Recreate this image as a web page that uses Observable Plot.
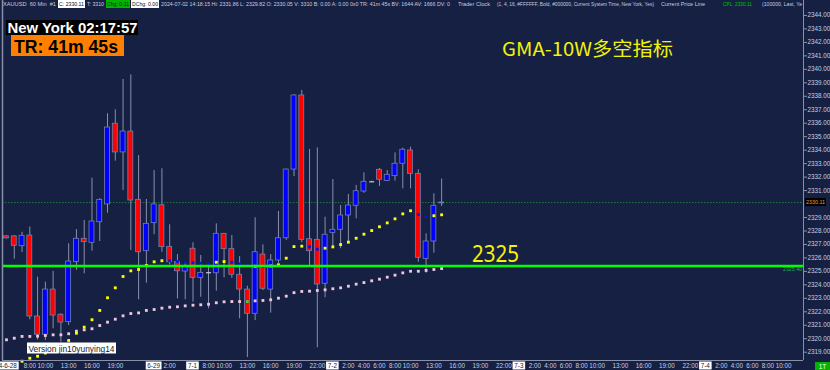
<!DOCTYPE html>
<html><head><meta charset="utf-8">
<script src="https://cdn.jsdelivr.net/npm/d3@7"></script>
<script src="https://cdn.jsdelivr.net/npm/@observablehq/plot@0.6"></script>
<style>
html,body{margin:0;padding:0;background:#152042;}
#wrap{position:relative;width:830px;height:370px;overflow:hidden;}
</style></head><body><div id="wrap"></div>
<script>
// ---- data (XAUUSD 60 Min) ----
const open  = [2327.60,2327.60,2326.87,2327.66,2321.65,2320.30,2323.65,2321.78,2321.23,2325.70,2327.42,2327.12,2328.65,2329.97,2335.96,2333.83,2335.38,2330.31,2326.50,2328.58,2329.91,2326.82,2325.68,2324.99,2326.68,2324.52,2324.90,2324.86,2327.79,2326.65,2324.75,2323.65,2321.85,2326.25,2323.65,2325.81,2327.46,2332.56,2338.06,2327.39,2327.34,2324.08,2327.86,2328.09,2329.15,2329.87,2330.93,2331.65,2332.54,2331.72,2332.07,2332.99,2333.97,2332.24,2325.93,2327.22,2330.05];
const high  = [2327.65,2327.65,2327.90,2328.30,2324.57,2324.20,2325.00,2321.85,2327.05,2328.10,2328.78,2331.92,2330.40,2336.70,2337.00,2339.25,2339.59,2333.60,2330.34,2332.49,2332.62,2328.46,2326.25,2325.68,2327.12,2326.18,2325.56,2328.53,2327.80,2327.66,2326.10,2323.90,2328.98,2326.97,2326.25,2329.45,2332.60,2338.13,2338.43,2334.05,2334.17,2329.02,2331.82,2329.89,2330.71,2331.38,2332.32,2331.70,2332.64,2332.49,2333.80,2334.15,2334.22,2332.54,2327.79,2330.76,2331.86];
const low   = [2327.40,2325.90,2326.40,2321.40,2319.90,2319.87,2320.74,2319.74,2320.98,2325.07,2324.82,2326.50,2327.22,2329.32,2333.18,2331.00,2326.55,2322.89,2324.12,2327.72,2326.42,2325.49,2322.96,2322.89,2322.71,2323.08,2322.22,2323.53,2324.52,2324.49,2321.48,2318.60,2321.35,2323.58,2321.90,2325.60,2327.30,2332.04,2327.12,2325.44,2319.33,2323.04,2326.68,2326.68,2327.05,2328.90,2330.80,2331.60,2331.30,2331.67,2331.70,2331.13,2331.13,2325.68,2324.86,2326.35,2329.82];
const close = [2327.45,2326.90,2327.64,2321.65,2320.30,2323.65,2321.72,2321.20,2325.73,2327.42,2327.17,2328.70,2330.31,2335.68,2333.83,2335.38,2330.26,2326.42,2328.53,2329.97,2326.80,2325.68,2325.01,2325.31,2324.52,2324.89,2324.90,2327.79,2326.65,2324.75,2323.65,2321.85,2326.42,2323.71,2325.81,2327.46,2332.56,2338.06,2327.34,2326.50,2324.03,2327.72,2328.09,2329.15,2329.89,2330.95,2331.65,2331.65,2331.80,2332.17,2332.99,2334.03,2332.24,2326.01,2327.22,2329.87,2330.11];
// GMA-10W dots: fast (yellow/blue) and slow (pink/green)
const gmaFast = [null,null,2318.33,2318.55,2318.70,2318.94,2319.20,2319.50,2319.87,2320.41,2320.86,2321.41,2322.10,2323.04,2323.78,2324.62,2325.04,2325.14,2325.44,2325.71,2325.79,2325.79,2325.73,2325.68,2325.63,2325.61,2325.56,2325.68,2325.73,2325.68,2325.56,2325.42,2325.38,2325.36,2325.40,2325.49,2325.98,2326.84,2326.87,2326.82,2326.65,2326.72,2326.82,2326.99,2327.17,2327.46,2327.76,2328.03,2328.31,2328.60,2328.90,2329.27,2329.50,2329.22,2329.07,2329.13,2329.20];
const gmaSlow = [2319.92,2320.04,2320.17,2320.17,2320.19,2320.24,2320.29,2320.29,2320.37,2320.56,2320.66,2320.74,2320.98,2321.23,2321.45,2321.70,2321.87,2321.92,2322.10,2322.17,2322.27,2322.34,2322.37,2322.44,2322.49,2322.52,2322.56,2322.67,2322.74,2322.76,2322.76,2322.76,2322.81,2322.84,2322.89,2323.01,2323.16,2323.42,2323.51,2323.53,2323.58,2323.63,2323.71,2323.78,2323.90,2324.05,2324.17,2324.30,2324.42,2324.57,2324.72,2324.89,2325.01,2325.01,2325.07,2325.14,2325.21];
const supportLevel = 2325.40;
const lastPrice = 2330.11;
const priceTicks = d3.range(2319, 2345).filter(v => Math.abs(v - lastPrice) > 0.5);
const hourTickIdx = [3,5,8,11,14,21,26,28,31,34,37,40,44,46,48,50,52,55,58,61,64,68,70,72,74,76,79,82,85,88,92,94,96,98,100];
const hourTickLabels = ["8:00","10:00","13:00","16:00","19:00","2:00","8:00","10:00","13:00","16:00","19:00","22:00","2:00","4:00","6:00","8:00","10:00","13:00","16:00","19:00","22:00","2:00","4:00","6:00","8:00","10:00","13:00","16:00","19:00","22:00","2:00","4:00","6:00","8:00","10:00"];
const dateTickIdx = [0,19,24,42,66,90];
const dateTickLabels = ["24-6-28","6-29","7-1","7-2","7-3","7-4"];
const xDomain = [-0.515, 102.57];
const yDomain = [2318.384, 2345.11];

// ---- build ----
const candles = open.map((o,i)=>({i, o, h:high[i], l:low[i], c:close[i]}));
const bodies = candles.filter(d=>Math.abs(d.c-d.o)>=0.05);
const dojis = candles.filter(d=>Math.abs(d.c-d.o)<0.05);
const fastDots = gmaFast.map((v,i)=>({i,v,c:close[i]})).filter(d=>d.v!=null);
const slowDots = gmaSlow.map((v,i)=>({i,v,c:close[i]}));
const hourLabel = new Map(hourTickIdx.map((d,k)=>[d,hourTickLabels[k]]));
const grey = "#c9cde0";
const hw = 0.32;

const plot = Plot.plot({
  width: 830, height: 370,
  marginLeft: 2, marginRight: 27, marginTop: 0, marginBottom: 10,
  style: {background:"#152042", color: grey, fontFamily:"Liberation Sans, Arial, sans-serif"},
  x: {type:"linear", domain: xDomain, axis: null},
  y: {type:"linear", domain: yDomain, axis: null},
  marks: [
    Plot.ruleY([lastPrice], {stroke:"#1f7a3c", strokeWidth:1, strokeDasharray:"1.5,1.5"}),
    Plot.ruleX(candles, {x:"i", y1:"l", y2:"h", stroke:"#8890ad", strokeWidth:1}),
    Plot.rect(bodies, {x1:d=>d.i-hw, x2:d=>d.i+hw, y1:"o", y2:"c",
      fill:d=>d.c>d.o?"#0000ff":"#ff0000", stroke:"#7480b4", strokeWidth:0.8}),
    Plot.link(dojis, {x1:d=>d.i-hw, x2:d=>d.i+hw, y1:"c", y2:"c", stroke:d=>d.i===56?"#8e9ee6":"#c6cad8", strokeWidth:1.2}),
    Plot.dot(slowDots, {x:"i", y:"v", symbol:"square", r:1.6, fill:d=>d.c>=d.v?"#f0c6dc":"#4fc44f", stroke:null}),
    Plot.dot(fastDots, {x:"i", y:"v", symbol:"square", r:1.6, fill:d=>d.c>=d.v?"#ffff00":"#0a10e8", stroke:null}),
    Plot.ruleY([supportLevel], {stroke:"#00ff00", strokeWidth:2.5}),
    Plot.ruleY([yDomain[0]], {stroke:"#8a90a8", strokeWidth:1}),
    Plot.ruleX([xDomain[1]], {stroke:"#8a90a8", strokeWidth:1}),
    Plot.ruleX([xDomain[0]], {stroke:"#8a90a8", strokeWidth:1.5}),
    Plot.axisY(priceTicks, {anchor:"right", tickFormat:d3.format(".2f"), tickSize:3, tickPadding:1,
      fontSize:6.3, fill:grey, stroke:"#8a90a8"}),
    Plot.axisX(hourTickIdx, {anchor:"bottom", tickFormat:d=>hourLabel.get(d), tickSize:0, tickPadding:3,
      fontSize:6.3, fill:grey})
  ]
});
document.getElementById("wrap").appendChild(plot);

// ---- overlay annotations positioned via the plot's scales ----
const xs = plot.scale("x"), ys = plot.scale("y");
const svg = d3.select(plot);
const g = svg.append("g").attr("text-anchor","start");

function txt(x, y, s, o={}) {
  const t = g.append("text").attr("x", x).attr("y", y).text(s)
    .attr("font-size", o.size||6).attr("fill", o.fill||grey)
    .attr("font-family", o.font||"Liberation Sans, Arial, sans-serif")
    .attr("font-weight", o.weight||"normal")
    .attr("text-anchor", o.anchor||"start");
  if (o.len) t.attr("textLength", o.len).attr("lengthAdjust","spacingAndGlyphs");
  return t;
}
function box(x, y, w, h, fill) { g.append("rect").attr("x",x).attr("y",y).attr("width",w).attr("height",h).attr("fill",fill); }

// header line
txt(3, 6, "XAUUSD  60 Min  #1", {len:53});
box(58, 0, 27, 8, "#ffffff"); txt(59, 6, "C: 2330.11", {len:25, fill:"#111"});
txt(87, 6, "T: 3310", {len:17});
box(106, 0, 24, 8, "#00b400"); txt(107, 6, "Chg: 0.11", {len:22, fill:"#111"});
box(131, 0, 28, 8, "#ffffff"); txt(132, 6, "DChg: 0.00", {len:26, fill:"#111"});
txt(161, 6, "2024-07-02 14:18:15 Hi: 2331.86 L: 2329.82 O: 2330.05 V: 3310 B: 0.00 A: 0.00 0x0 TR: 41m 45s BV: 1644 AV: 1666 DV: 0", {len:289, size:5});
txt(458, 6, "Trader Clock", {len:32});
txt(497, 6, "(1, 4, 16, #FFFFFF, Bold, #000000, Current System Time, New York, Yes)", {len:157, size:4.8});
txt(661, 6, "Current Price Line", {len:44});
txt(723, 6, "CPL: 2330.11", {len:29, fill:"#00c000"});
txt(762, 6, "(100000, Last, Ye", {len:40});

// trader clock
box(6, 20, 132, 15, "#000000");
txt(7.5, 33, "New York 02:17:57", {size:15, weight:"bold", fill:"#ffffff", len:130});
box(11, 35, 113, 21, "#ff8000");
txt(14, 53, "TR: 41m 45s", {size:19, weight:"bold", fill:"#000000", len:104});

// title
txt(502, 56, "GMA-10W多空指标", {size:19, fill:"#f2f20a", font:"Noto Sans CJK SC, sans-serif", len:171});
// support label
txt(472, ys.apply(supportLevel)-3.5, "2325", {size:24, fill:"#f2f20a", font:"Noto Sans, sans-serif", len:47});
txt(802, ys.apply(supportLevel)+6, "2325.40", {size:6, fill:"#22b04a", anchor:"end", len:19});
// last price tag
box(805, ys.apply(lastPrice)-4, 21, 8, "#000000");
txt(806, ys.apply(lastPrice)+2.3, "2330.11", {size:6.2, fill:"#ff9a1a", len:19});

// date labels with white boxes
dateTickIdx.forEach((d,k)=>{
  const s = dateTickLabels[k];
  const w = s.length*3.2+3;
  const cx = xs.apply(d);
  box(cx-w/2, 361.5, w, 8, "#ffffff");
  txt(cx, 368, s, {size:6.3, fill:"#1a1a30", anchor:"middle"});
});
// resolution tag
box(815, 362, 15, 8, "#00b400"); txt(822.5, 368.5, "1T", {size:6.5, fill:"#ffffff", anchor:"middle"});
// version label
box(27, 342.5, 89, 11, "#ffffff");
txt(28.5, 351.5, "Version jin10yunying14", {size:9.5, fill:"#1a1a2a", len:86});
</script></body></html>
